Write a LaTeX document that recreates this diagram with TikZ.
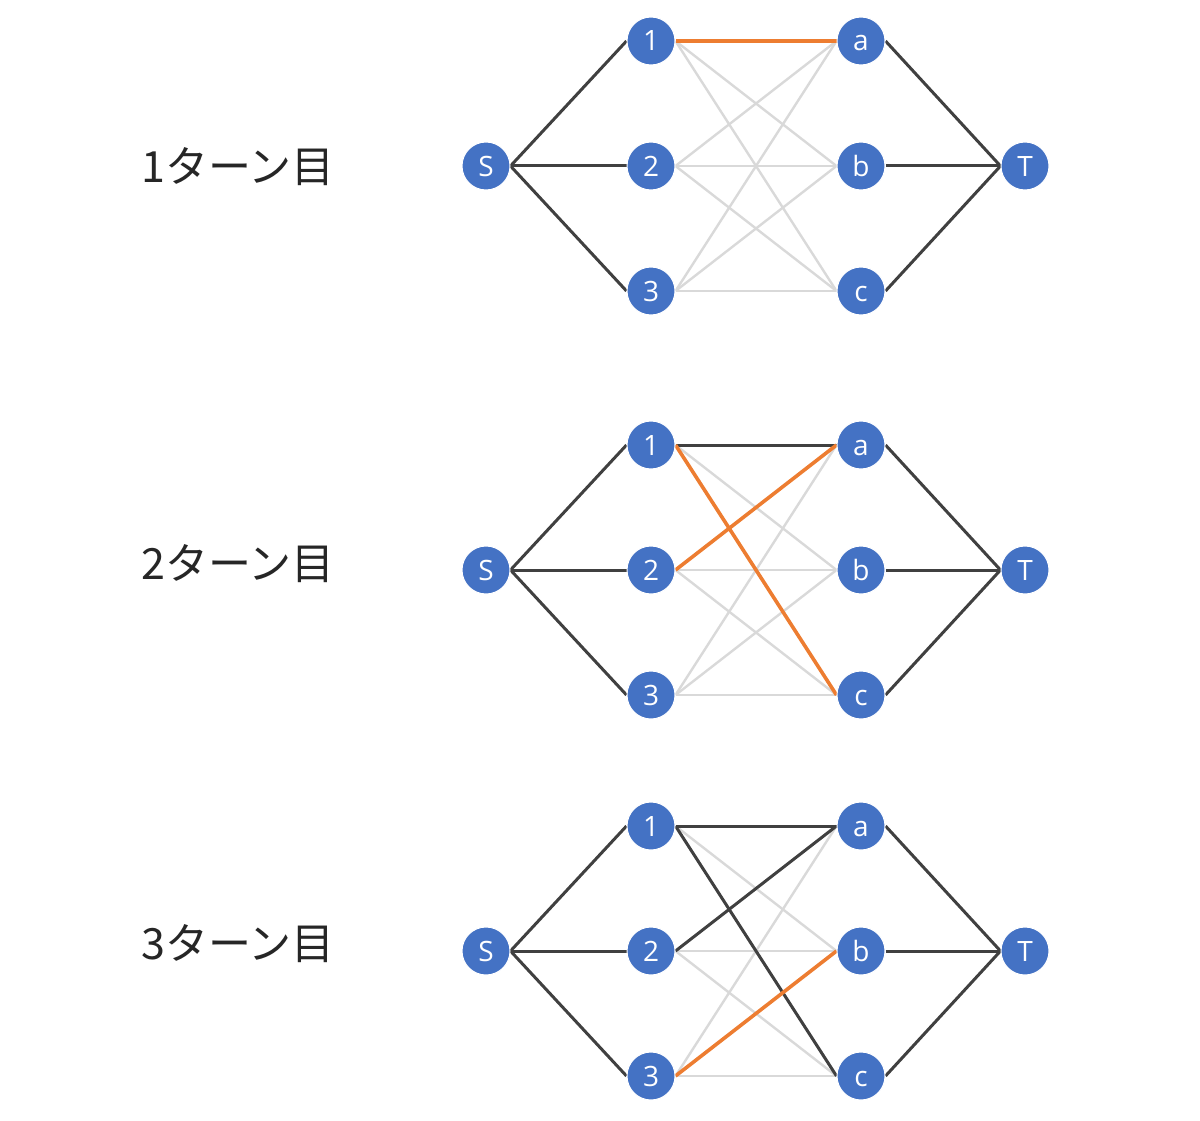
\documentclass[tikz,border=0pt]{standalone}
\usepackage{fontspec}
\setmainfont{Open Sans}
\newfontfamily\jpfont{Noto Sans CJK JP}
\usetikzlibrary{backgrounds}
\definecolor{nodeblue}{HTML}{4472C4}
\definecolor{edgeorange}{HTML}{ED7D31}
\definecolor{edgedark}{HTML}{404040}
\definecolor{edgelight}{HTML}{D9D9D9}
\tikzset{
  vtx/.style={circle,fill=nodeblue,draw=white,line width=1pt,minimum size=48pt,inner sep=0pt,text=white,
    font=\fontsize{28}{28}\selectfont,text height=20pt,text depth=0pt},
  lite/.style={edgelight,line width=2.4pt},
  dark/.style={edgedark,line width=3pt},
  hot/.style={edgeorange,line width=3.6pt},
  turnlabel/.style={font=\jpfont\fontsize{43}{43}\selectfont,text=black!85,inner sep=0pt}
}
\begin{document}
\begin{tikzpicture}[x=1pt,y=-1pt]
\useasboundingbox (0,0) rectangle (1200,1121);
\foreach \g/\yc in {1/166,2/570,3/951}{
  \node[vtx] (S\g) at (486,\yc) {S};
  \node[vtx] (L1\g) at (651,\yc-125) {1};
  \node[vtx] (L2\g) at (651,\yc) {2};
  \node[vtx] (L3\g) at (651,\yc+125) {3};
  \node[vtx] (Ra\g) at (861,\yc-125) {a};
  \node[vtx] (Rb\g) at (861,\yc) {b};
  \node[vtx] (Rc\g) at (861,\yc+125) {c};
  \node[vtx] (T\g) at (1025,\yc) {T};
}
\begin{scope}[on background layer]
\foreach \g in {1,2,3}{
  \foreach \l in {1,2,3}{
    \foreach \r in {a,b,c}{
      \draw[lite] (L\l\g.east) -- (R\r\g.west);
    }
    \draw[dark] (S\g.east) -- (L\l\g.west);
  }
  \foreach \r in {a,b,c}{
    \draw[dark] (R\r\g.east) -- (T\g.west);
  }
}
% turn 1
\draw[hot] (L11.east) -- (Ra1.west);
% turn 2
\draw[dark] (L12.east) -- (Ra2.west);
\draw[hot] (L12.east) -- (Rc2.west);
\draw[hot] (L22.east) -- (Ra2.west);
% turn 3
\draw[dark] (L13.east) -- (Ra3.west);
\draw[dark] (L13.east) -- (Rc3.west);
\draw[dark] (L23.east) -- (Ra3.west);
\draw[hot] (L33.east) -- (Rb3.west);
\end{scope}
\node[turnlabel] (t1) at (238,167) {1ターン目};
\node[turnlabel] (t2) at (238,564) {2ターン目};
\node[turnlabel] (t3) at (238,944) {3ターン目};
\end{tikzpicture}
\end{document}
